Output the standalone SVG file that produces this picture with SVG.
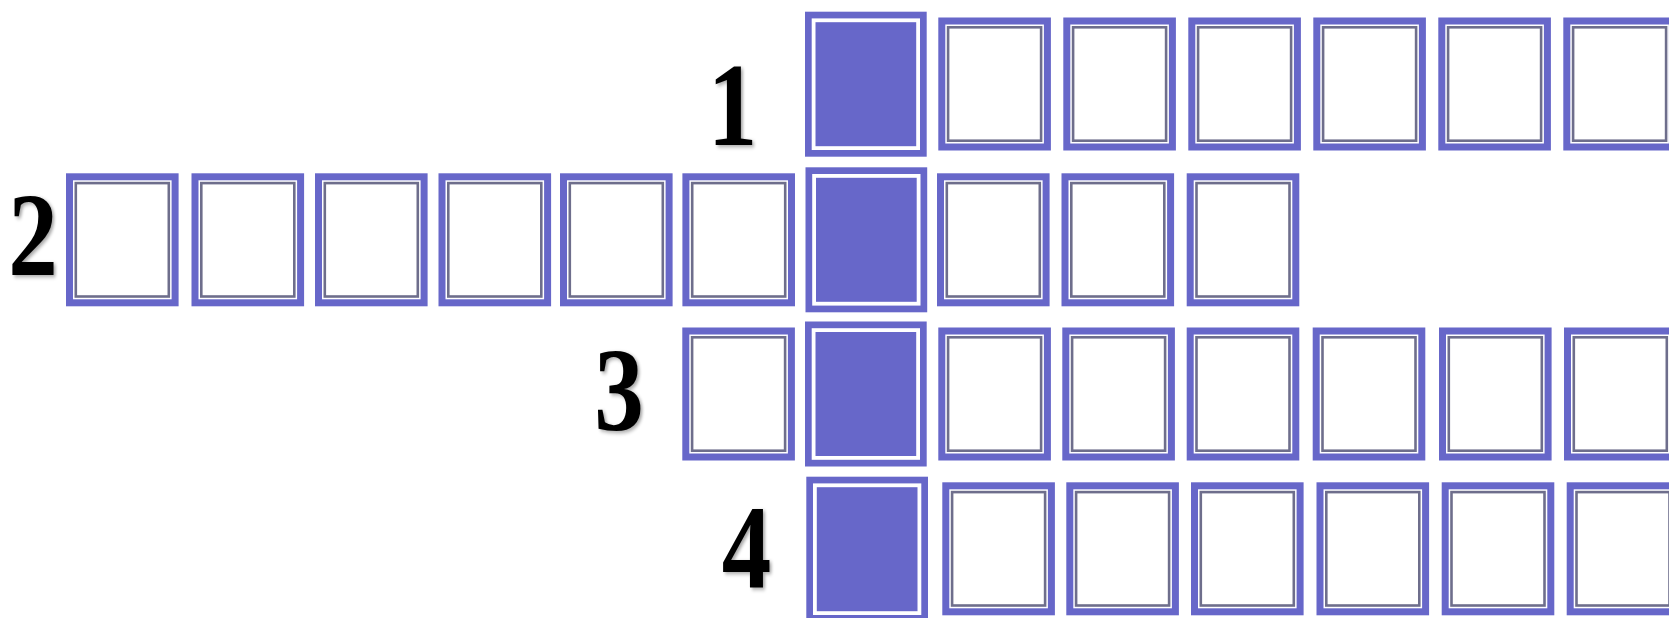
<svg xmlns="http://www.w3.org/2000/svg" xmlns:xlink="http://www.w3.org/1999/xlink" width="1669" height="618" viewBox="0 0 1669 618">
<style>
.ob{fill:#ffffff;stroke:#6767c9;stroke-width:7}
.gl{fill:none;stroke:#6e6e8c;stroke-width:2.6}
.fb{fill:#6767c9}
.fw{fill:none;stroke:#ffffff;stroke-width:3.8}
.num{font-family:"Liberation Serif","Times New Roman",serif;font-weight:bold;font-size:118px;fill:#000000;text-anchor:middle}
</style>
<defs>
<filter id="sh" x="-20%" y="-20%" width="150%" height="150%">
<feGaussianBlur in="SourceAlpha" stdDeviation="2"/>
<feOffset dx="2" dy="2" result="b"/>
<feComponentTransfer><feFuncA type="linear" slope="0.35"/></feComponentTransfer>
<feMerge><feMergeNode/><feMergeNode in="SourceGraphic"/></feMerge>
</filter>
<g id="wcell">
<rect class="ob" x="3.5" y="3.5" width="105.6" height="126"/>
<rect class="gl" x="9.8" y="9.8" width="93" height="113.4"/>
</g>
<g id="fcell">
<rect class="fb" x="0" y="0" width="121.7" height="145"/>
<rect class="fw" x="8.6" y="8.6" width="104.5" height="127.8"/>
</g>
</defs>
<rect width="1669" height="618" fill="#ffffff"/>
<g id="labels">
<text class="num" filter="url(#sh)" transform="translate(732.5,145) scale(0.84,1)">1</text>
<text class="num" filter="url(#sh)" transform="translate(33,275) scale(0.84,1)">2</text>
<text class="num" filter="url(#sh)" transform="translate(619,430) scale(0.84,1)">3</text>
<text class="num" filter="url(#sh)" transform="translate(746.5,587) scale(0.84,1)">4</text>
</g>
<g id="row1">
<g id="r1f"><use xlink:href="#fcell" x="805" y="11.7"/></g>
<g id="r1c1"><use xlink:href="#wcell" x="938.3" y="17.5"/></g>
<g id="r1c2"><use xlink:href="#wcell" x="1063.3" y="17.5"/></g>
<g id="r1c3"><use xlink:href="#wcell" x="1188.3" y="17.5"/></g>
<g id="r1c4"><use xlink:href="#wcell" x="1313.3" y="17.5"/></g>
<g id="r1c5"><use xlink:href="#wcell" x="1438.3" y="17.5"/></g>
<g id="r1c6"><use xlink:href="#wcell" x="1563.3" y="17.5"/></g>
</g>
<g id="row2">
<g id="r2l1"><use xlink:href="#wcell" x="66" y="173.3"/></g>
<g id="r2l2"><use xlink:href="#wcell" x="191.5" y="173.3"/></g>
<g id="r2l3"><use xlink:href="#wcell" x="315" y="173.3"/></g>
<g id="r2l4"><use xlink:href="#wcell" x="438.5" y="173.3"/></g>
<g id="r2l5"><use xlink:href="#wcell" x="560" y="173.3"/></g>
<g id="r2l6"><use xlink:href="#wcell" x="682.4" y="173.3"/></g>
<g id="r2f"><use xlink:href="#fcell" x="805.5" y="167.3"/></g>
<g id="r2c1"><use xlink:href="#wcell" x="937" y="173.3"/></g>
<g id="r2c2"><use xlink:href="#wcell" x="1061.5" y="173.3"/></g>
<g id="r2c3"><use xlink:href="#wcell" x="1186.7" y="173.3"/></g>
</g>
<g id="row3">
<g id="r3l1"><use xlink:href="#wcell" x="682.3" y="327.5"/></g>
<g id="r3f"><use xlink:href="#fcell" x="805" y="321.5"/></g>
<g id="r3c1"><use xlink:href="#wcell" x="938.3" y="327.5"/></g>
<g id="r3c2"><use xlink:href="#wcell" x="1062.3" y="327.5"/></g>
<g id="r3c3"><use xlink:href="#wcell" x="1186.7" y="327.5"/></g>
<g id="r3c4"><use xlink:href="#wcell" x="1312.7" y="327.5"/></g>
<g id="r3c5"><use xlink:href="#wcell" x="1439" y="327.5"/></g>
<g id="r3c6"><use xlink:href="#wcell" x="1564" y="327.5"/></g>
</g>
<g id="row4">
<g id="r4f"><use xlink:href="#fcell" x="806.3" y="476.7"/></g>
<g id="r4c1"><use xlink:href="#wcell" x="942.3" y="482.3"/></g>
<g id="r4c2"><use xlink:href="#wcell" x="1066.3" y="482.3"/></g>
<g id="r4c3"><use xlink:href="#wcell" x="1191" y="482.3"/></g>
<g id="r4c4"><use xlink:href="#wcell" x="1316.5" y="482.3"/></g>
<g id="r4c5"><use xlink:href="#wcell" x="1441.7" y="482.3"/></g>
<g id="r4c6"><use xlink:href="#wcell" x="1566.7" y="482.3"/></g>
</g>
</svg>
